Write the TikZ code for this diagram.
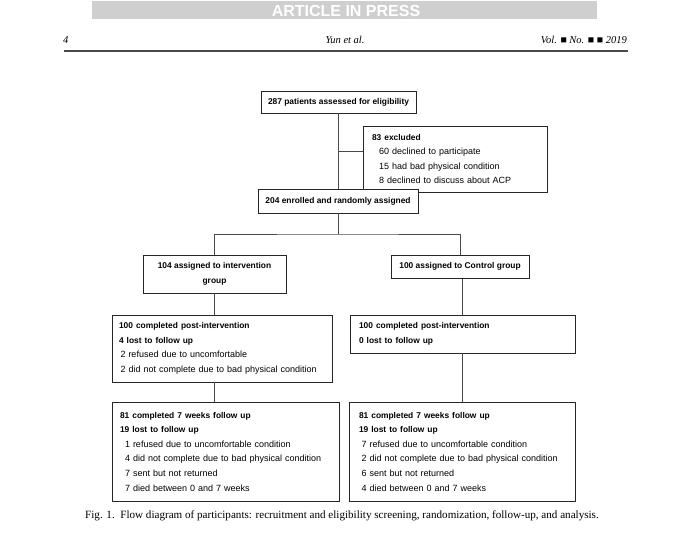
\documentclass[tikz,border=0pt]{standalone}
\usepackage{fontspec}
\setmainfont{Liberation Serif}
\newfontfamily\boxfont{Liberation Sans}
\usetikzlibrary{calc}
\definecolor{banner}{HTML}{CFCFCF}
\definecolor{edge}{HTML}{262626}
\definecolor{conn}{HTML}{4A4A4A}
\newcommand\bline[1]{{\fontsize{8.4}{14.6}\selectfont\bfseries #1}}
\tikzset{
  flowbox/.style={draw=edge, line width=0.9pt, fill=white, rectangle, inner sep=0pt,
    font=\boxfont\fontsize{9}{14.6}\selectfont},
  listbox/.style={flowbox, align=left, inner xsep=#1},
  titlebox/.style={flowbox, align=center, font=\boxfont\fontsize{8.4}{15}\selectfont\bfseries},
  link/.style={draw=conn, line width=0.8pt},
  headtext/.style={font=\fontsize{10.5}{12}\selectfont\itshape, inner sep=0pt}
}
\begin{document}
\begin{tikzpicture}[x=1pt,y=-1pt]
\useasboundingbox (0,0) rectangle (680,536);
% header
\fill[banner] (92,1) rectangle (597,19);
\node[font=\boxfont\fontsize{16}{16}\selectfont\bfseries, text=white, inner sep=0pt] (press) at (346,10.5) {ARTICLE IN PRESS};
\node[headtext, anchor=west] (pg) at (63,40) {4};
\node[headtext] (auth) at (345,40) {Yun et al.};
\node[headtext, anchor=east] (vol) at (627,40) {Vol. ■ No. ■ ■ 2019};
\draw[conn, line width=1.4pt] (64,51) -- (628,51);

% boxes
\node[titlebox, minimum width=155pt, minimum height=22pt] (assess) at (338.5,102) {287 patients assessed for eligibility};
\node[listbox=9pt, text width=166pt, minimum height=66pt] (excl) at (455,159) {%
\bline{83 excluded}\\
\hspace*{7pt}60 declined to participate\\
\hspace*{7pt}15 had bad physical condition\\
\hspace*{7pt}8 declined to discuss about ACP};
\node[titlebox, minimum width=143pt, minimum height=38pt] (inter) at (214.5,274) {104 assigned to intervention\\group};
\node[titlebox, minimum width=138pt, minimum height=23pt] (ctrl) at (460,266.8) {100 assigned to Control group};
\node[listbox=7pt, text width=206pt, minimum height=67pt] (postI) at (222,348.5) {%
\bline{100 completed post-intervention}\\
\bline{4 lost to follow up}\\
\hspace*{1.5pt}2 refused due to uncomfortable\\
\hspace*{1.5pt}2 did not complete due to bad physical condition};
\node[listbox=9pt, text width=207pt, minimum height=38pt] (postC) at (462.5,334) {%
\bline{100 completed post-intervention}\\
\bline{0 lost to follow up}};
\node[listbox=8pt, text width=211pt, minimum height=99pt] (folI) at (225.5,451.5) {%
\bline{81 completed 7 weeks follow up}\\
\bline{19 lost to follow up}\\
\hspace*{5pt}1 refused due to uncomfortable condition\\
\hspace*{5pt}4 did not complete due to bad physical condition\\
\hspace*{5pt}7 sent but not returned\\
\hspace*{5pt}7 died between 0 and 7 weeks};
\node[listbox=10pt, text width=206pt, minimum height=99pt] (folC) at (462,451.5) {%
\bline{81 completed 7 weeks follow up}\\
\bline{19 lost to follow up}\\
\hspace*{2.5pt}7 refused due to uncomfortable condition\\
\hspace*{2.5pt}2 did not complete due to bad physical condition\\
\hspace*{2.5pt}6 sent but not returned\\
\hspace*{2.5pt}4 died between 0 and 7 weeks};
% enrol box drawn after excl so that it lies on top of it
\node[titlebox, minimum width=160pt, minimum height=24pt] (enrol) at (338,201) {204 enrolled and randomly assigned};

% connectors
\draw[link] (assess.south) -- (assess.south |- enrol.north);
\coordinate (br) at (338.5,151);
\draw[link] (br) -- (br -| excl.west);
\coordinate (split) at (338,234);
\draw[link] (enrol.south) -- (split);
\draw[link] (inter.north) |- (split) -| (ctrl.north);
\draw[link] (inter.south) -- (inter.south |- postI.north);
\draw[link] (postI.south -| inter.south) -- (inter.south |- folI.north);
\draw[link] (postC.north) -- (postC.north |- ctrl.south);
\draw[link] (postC.south -| folC.north) -- (folC.north);

% caption
\node[font=\fontsize{11.1}{13}\selectfont, inner sep=0pt, anchor=west] (cap) at (85,516) {Fig. 1.\ \ Flow diagram of participants: recruitment and eligibility screening, randomization, follow-up, and analysis.};
\end{tikzpicture}
\end{document}
